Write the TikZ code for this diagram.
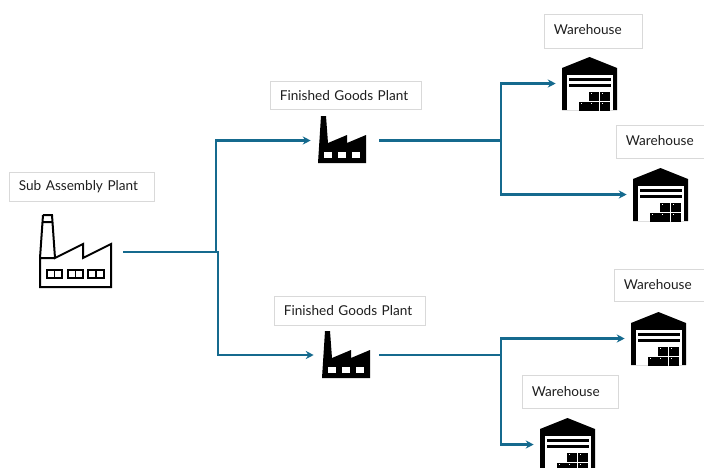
\documentclass[tikz,border=0pt]{standalone}
\usepackage{fontspec}
\setmainfont{Lato}
\usepackage{xcolor}
\usetikzlibrary{arrows.meta,positioning}

\definecolor{flowblue}{HTML}{156A8E}
\definecolor{boxgray}{HTML}{D9D9D9}
\definecolor{textdark}{HTML}{1E1E1E}

\tikzset{
    flow/.style={draw=flowblue,line width=1.7pt,-{Stealth[length=6pt,width=6pt]}},
    trunk/.style={draw=flowblue,line width=2.1pt},
    hub/.style={inner sep=0pt,minimum height=47*0.75pt,minimum width=#1*0.75pt},
    lbl/.style={draw=boxgray,line width=0.75pt,anchor=north west,text=textdark,
        font=\fontsize{10.2}{12}\selectfont,inner xsep=7pt,inner ysep=0pt,
        text width=#1,align=left},
    factoryline/.pic={
        \draw[line width=1.5pt,line join=miter] (-33,-37) -- (-24,-37) -- (-21,6) -- (7,-8) -- (7,6)
            -- (35,-8) -- (35,35) -- (-36,35) -- (-36,6) -- (-33,-37) (-36,6) -- (-21,6)
            (-33.5,-30) -- (-23.5,-30);
        \foreach \xa/\xb in {-29/-14,-8/7,12/28} {
            \draw[line width=1.3pt] (\xa,18) rectangle (\xb,26) ({(\xa+\xb)/2},18) -- ({(\xa+\xb)/2},26);
        }
    },
    factorysolid/.pic={
        \fill (-24,-24) -- (-19,-24) -- (-17,3) -- (2,-5) -- (2,3) -- (21,-5) -- (21,23) -- (-27,23) -- cycle;
        \foreach \xa in {-21,-7,7} {
            \fill[white] (\xa,12) rectangle ++(8,6);
        }
    },
    warehouse/.pic={
        \fill (-27.5,26.5) -- (-27.5,-15.5) -- (0,-26.5) -- (27.5,-15.5) -- (27.5,26.5) -- cycle;
        \fill[white] (-23,-8.5) rectangle (23,26.5);
        \fill (-21,-5.5) rectangle (21,-2.5);
        \fill (-21,0.5) rectangle (21,3.5);
        \foreach \xa/\ya in {-0.5/8,10.5/8,-10.5/18,-0.5/18,10.5/18} {
            \fill (\xa,\ya) rectangle ++(10,9);
            \fill[white] (\xa+2,\ya+1.5) rectangle ++(1,1);
        }
    },
}

\begin{document}
\begin{tikzpicture}[x=0.75pt,y=-0.75pt,>=Stealth]
    \useasboundingbox (0,0) rectangle (704,468);
    \clip (0,0) rectangle (704,468);

    \node[lbl=94.75pt,minimum height=21.75pt] (Ls) at (9,172) {Sub Assembly Plant};
    \node[lbl=99.25pt,minimum height=21pt] (Lf1) at (270,81) {Finished Goods Plant};
    \node[lbl=99.25pt,minimum height=21.75pt] (Lf2) at (274,296) {Finished Goods Plant};
    \node[lbl=59.5pt,minimum height=25.5pt,text depth=3pt] (Lw1) at (544,14) {Warehouse};
    \node[lbl=59.5pt,minimum height=24.75pt,text depth=2pt] (Lw2) at (616,125) {Warehouse};
    \node[lbl=59.5pt,minimum height=24pt,text depth=1pt] (Lw3) at (614,269) {Warehouse};
    \node[lbl=58pt,minimum height=24.75pt,text depth=1pt] (Lw4) at (522,375) {Warehouse};

    \node[hub=94] (S) at (76,252) {};
    \node[hub=68] (F1) at (345,140.5) {};
    \node[hub=65] (F2) at (346.5,355) {};
    \node[hub=67] (W1) at (589.5,83.5) {};
    \node[hub=67] (W2) at (660.5,194.5) {};
    \node[hub=67] (W3) at (658.5,338.5) {};
    \node[hub=67] (W4) at (567.5,444.5) {};

    \pic at (76,252) {factoryline};
    \pic at (345,140) {factorysolid};
    \pic at (349,355) {factorysolid};
    \pic at (W1) {warehouse};
    \pic at (W2) {warehouse};
    \pic at (W3) {warehouse};
    \pic at (W4) {warehouse};

    \coordinate (Ja) at (216,252);
    \coordinate (Jb) at (218,252);
    \coordinate (J1) at (501,140.5);
    \coordinate (J2) at (501,355);

    \draw[flow] (Ja) |- (F1.west);
    \draw[flow] (S.east) -- (Jb) |- (F2.west);
    \draw[flow] (J1) |- (W1.west);
    \draw[flow] (J1) |- (W2.west);
    \draw[flow] (J2) |- (W3.west);
    \draw[flow] (J2) |- (W4.west);
    \draw[trunk] (F1.east) -- (J1);
    \draw[trunk] (F2.east) -- (J2);
\end{tikzpicture}
\end{document}
